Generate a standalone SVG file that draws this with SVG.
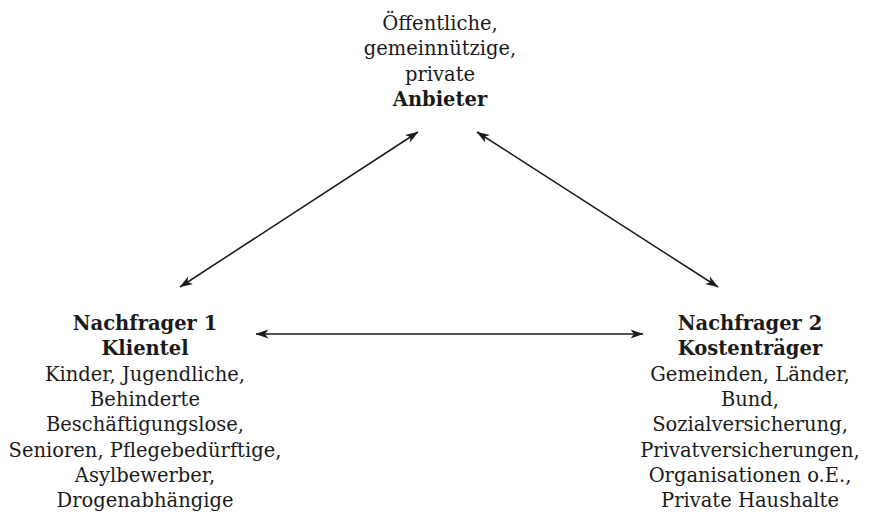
<svg xmlns="http://www.w3.org/2000/svg" width="869" height="518" viewBox="0 0 869 518">
<style>
text{font-family:"DejaVu Serif","Liberation Serif",serif;font-size:19.5px;fill:#1a1a1a;text-anchor:middle}
.b{font-weight:bold}
.c{stroke:#1a1a1a;stroke-width:1.5;fill:none}
</style>
<defs>
<marker id="ah" viewBox="0 0 13 10" refX="12.5" refY="5" markerWidth="13" markerHeight="10" markerUnits="userSpaceOnUse" orient="auto-start-reverse">
<path d="M0,0.5 L13,5 L0,9.5 L3.5,5 Z" fill="#1a1a1a"/>
</marker>
</defs>
<rect width="869" height="518" fill="#fff"/>
<g id="connectors">
<line class="c" x1="180" y1="287" x2="418" y2="132" marker-start="url(#ah)" marker-end="url(#ah)"/>
<line class="c" x1="477" y1="132" x2="718" y2="287" marker-start="url(#ah)" marker-end="url(#ah)"/>
<line class="c" x1="256" y1="334" x2="643" y2="334" marker-start="url(#ah)" marker-end="url(#ah)"/>
</g>
<g id="anbieter">
<text x="440" y="30">Öffentliche,</text>
<text x="440" y="55.3">gemeinnützige,</text>
<text x="440" y="80.7">private</text>
<text x="440" y="106" class="b">Anbieter</text>
</g>
<g id="nachfrager1">
<text x="145" y="330" class="b">Nachfrager 1</text>
<text x="145" y="355.3" class="b">Klientel</text>
<text x="145" y="380.6">Kinder, Jugendliche,</text>
<text x="145" y="405.9">Behinderte</text>
<text x="145" y="431.2">Beschäftigungslose,</text>
<text x="145" y="456.5">Senioren, Pflegebedürftige,</text>
<text x="145" y="481.8">Asylbewerber,</text>
<text x="145" y="507.1">Drogenabhängige</text>
</g>
<g id="nachfrager2">
<text x="750" y="330" class="b">Nachfrager 2</text>
<text x="750" y="355.3" class="b">Kostenträger</text>
<text x="750" y="380.6">Gemeinden, Länder,</text>
<text x="750" y="405.9">Bund,</text>
<text x="750" y="431.2">Sozialversicherung,</text>
<text x="750" y="456.5">Privatversicherungen,</text>
<text x="750" y="481.8">Organisationen o.E.,</text>
<text x="750" y="507.1">Private Haushalte</text>
</g>
</svg>
